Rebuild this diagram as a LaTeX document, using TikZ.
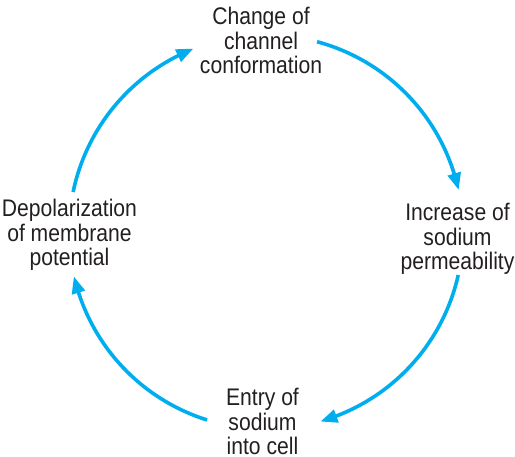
\documentclass[tikz,border=0pt]{standalone}
\usepackage{fontspec}
\setmainfont{Liberation Sans}[FakeStretch=0.88]
\usetikzlibrary{arrows.meta,bending}
\definecolor{cycblue}{HTML}{00AEEF}
\definecolor{txtgray}{HTML}{231F20}
\tikzset{
  cycarrow/.style={draw=cycblue, line width=3.6pt, -{Triangle[length=17pt,width=13pt,bend]}},
  label/.style={anchor=base, inner sep=0pt, text=txtgray, font=\fontsize{24}{23.3}\selectfont}
}
\newcommand{\lbl}[1]{\begin{tabular}[t]{@{}c@{}}#1\end{tabular}}
\begin{document}
\begin{tikzpicture}[x=1pt,y=1pt]
\useasboundingbox (0,0) rectangle (515,457);
\coordinate (c) at (266,225);
\node[label] (top) at (261,432) {\lbl{Change of\\channel\\conformation}};
\node[label] (right) at (457.5,236) {\lbl{Increase of\\sodium\\permeability}};
\node[label] (bottom) at (262.5,51) {\lbl{Entry of\\sodium\\into cell}};
\node[label] (left) at (69.5,240) {\lbl{Depolarization\\of membrane\\potential}};
\draw[cycarrow] ([shift={(75:197)}]c) arc[start angle=75, end angle=12.3, radius=197];
\draw[cycarrow] ([shift={(-12.6:197)}]c) arc[start angle=-12.6, end angle=-74, radius=197];
\draw[cycarrow] ([shift={(-107.4:197)}]c) arc[start angle=-107.4, end angle=-167, radius=197];
\draw[cycarrow] ([shift={(168.3:197)}]c) arc[start angle=168.3, end angle=111.6, radius=197];
\end{tikzpicture}
\end{document}
